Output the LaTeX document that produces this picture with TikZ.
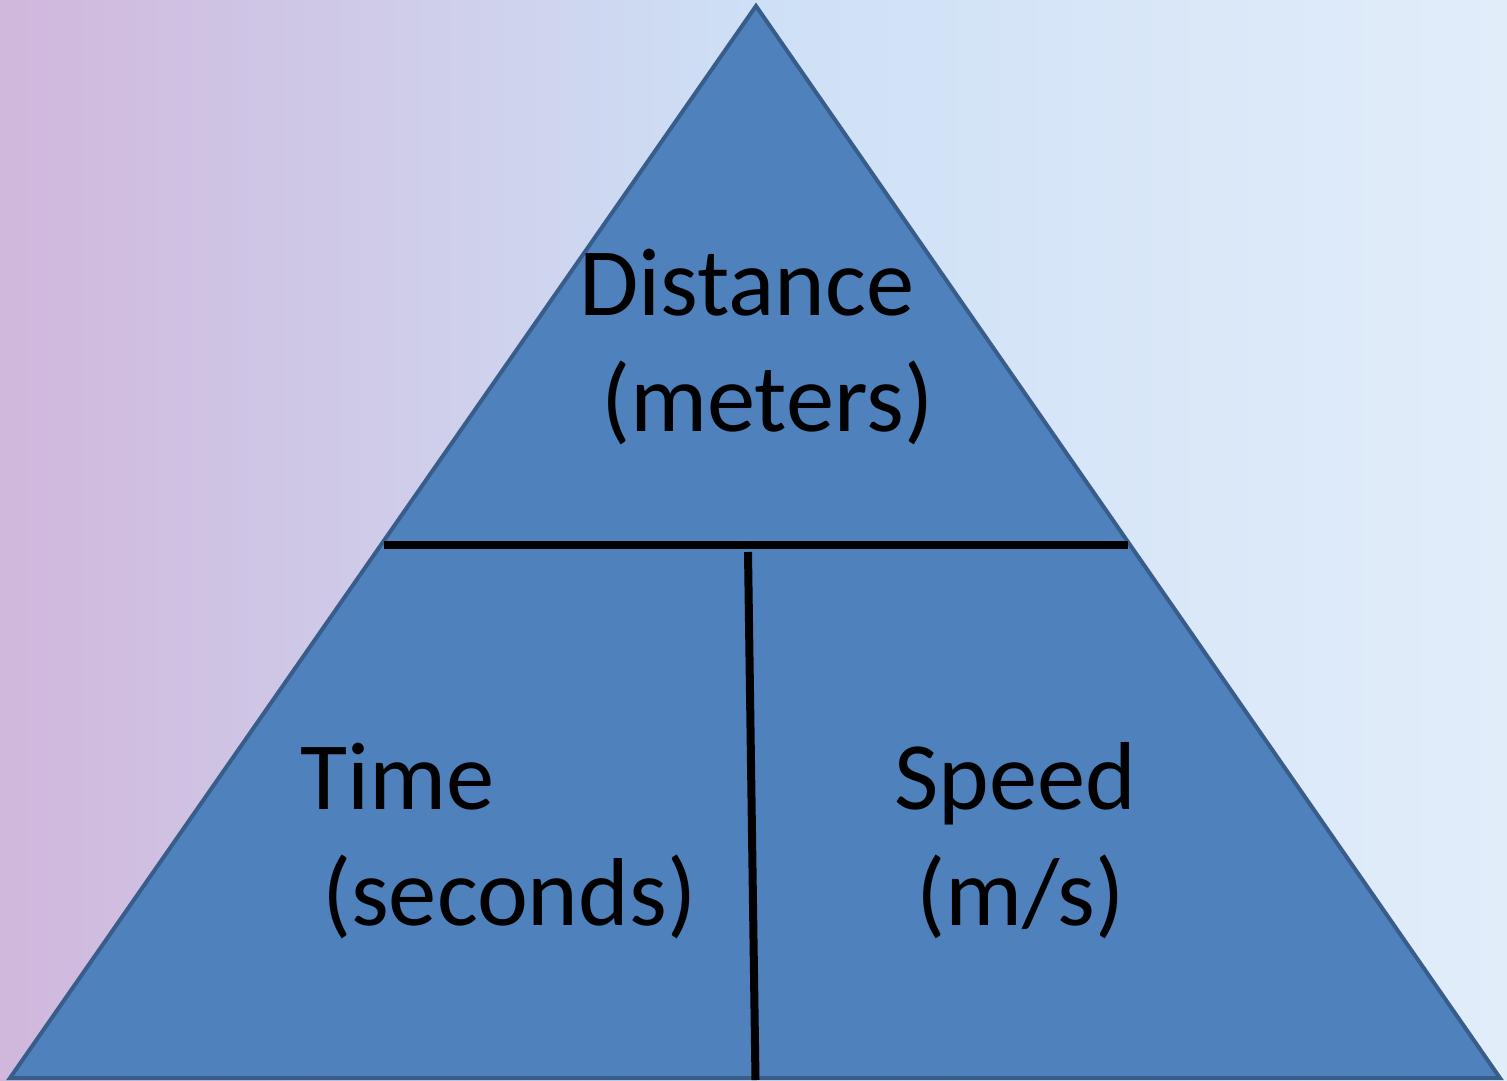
\documentclass[tikz,border=0pt]{standalone}
\usepackage{fontspec}
\setmainfont{Carlito}
\definecolor{bgL}{RGB}{208,183,220}
\definecolor{bgM}{RGB}{206,224,246}
\definecolor{bgR}{RGB}{226,237,250}
\definecolor{triFill}{RGB}{79,129,189}
\definecolor{triEdge}{RGB}{56,93,138}
\pgfdeclarehorizontalshading{bgshade}{100bp}{color(0bp)=(bgL); color(25bp)=(bgL); color(50bp)=(bgM); color(75bp)=(bgR); color(100bp)=(bgR)}
\tikzset{
  tri/.style={fill=triFill, draw=triEdge, line width=4pt, line join=miter},
  divider/.style={draw=black, line width=8pt},
  lbl/.style={anchor=base west, inner sep=0pt, align=left, text=black,
    font=\fontsize{96.5}{116}\selectfont}
}
\begin{document}
\begin{tikzpicture}[x=1pt,y=-1pt]
\useasboundingbox (0,0) rectangle (1507,1080);
\shade[shading=bgshade] (0,0) rectangle (1507,1080);
\coordinate (apex) at (756,6);
\coordinate (bl) at (10,1078);
\coordinate (br) at (1500,1078);
\coordinate (hl) at (384,544.5);
\coordinate (hr) at (1128,544.5);
\coordinate (vt) at (748,552);
\coordinate (vb) at (755.5,1080);
\draw[tri] (apex) -- (bl) -- (br) -- cycle;
\draw[divider] (hl) -- (hr);
\draw[divider] (vt) -- (vb);
\node[lbl] (dist) at (579,431) {Distance\\\ (meters)};
\node[lbl] (time) at (300,925) {Time\\\ (seconds)};
\node[lbl] (speed) at (894,925) {Speed\\\ (m/s)};
\end{tikzpicture}
\end{document}
